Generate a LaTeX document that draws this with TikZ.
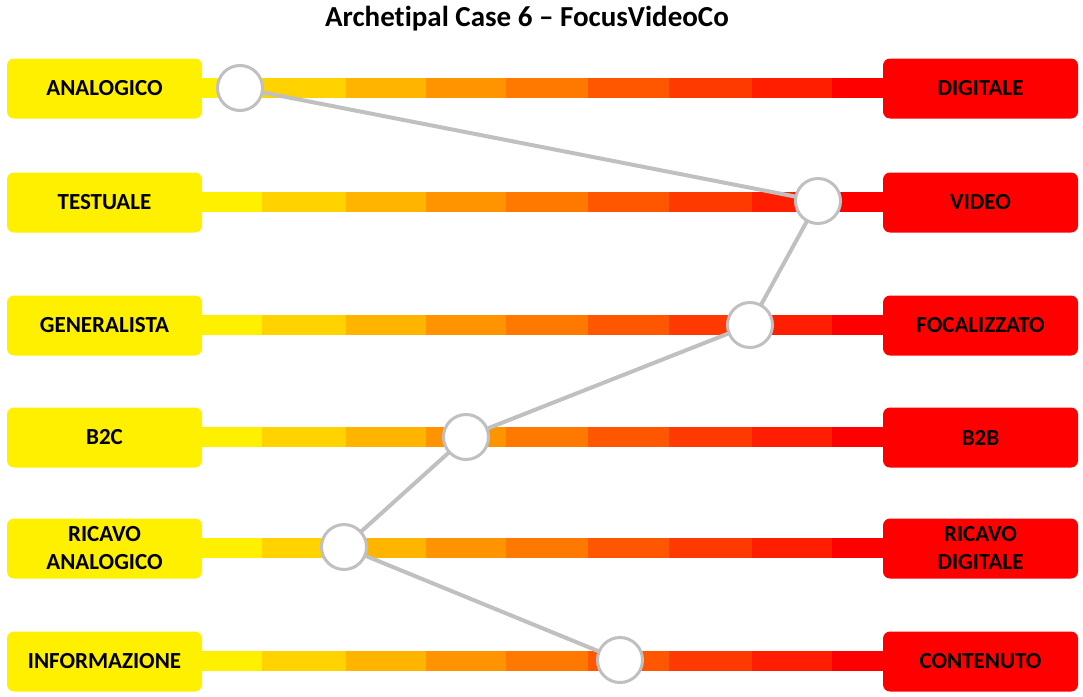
\documentclass[tikz,border=0pt]{standalone}
\usepackage{fontspec}
\setmainfont{Carlito}[Ligatures={NoCommon}]
\definecolor{yel}{HTML}{FFF000}
\definecolor{sa}{HTML}{FFD200}
\definecolor{sb}{HTML}{FFB400}
\definecolor{sc}{HTML}{FF9400}
\definecolor{sd}{HTML}{FF7800}
\definecolor{se}{HTML}{FF5600}
\definecolor{sf}{HTML}{FF3A00}
\definecolor{sg}{HTML}{FF1E00}
\definecolor{rd}{HTML}{FF0000}
\definecolor{knob}{HTML}{C0C0C0}
\begin{document}
\begin{tikzpicture}[x=1pt,y=-1pt,
  pole/.style={minimum width=195pt,minimum height=60pt,rounded corners=7pt,
    font=\fontsize{23}{28}\selectfont\bfseries,align=center,inner sep=0pt},
  leftpole/.style={pole,fill=yel},
  rightpole/.style={pole,fill=rd},
  slider/.style={circle,draw=knob,line width=3pt,fill=white,minimum size=45pt,inner sep=0pt},
  link/.style={draw=knob,line width=4pt}]
\useasboundingbox (0,0) rectangle (1083,696);
\node[font=\fontsize{29}{32}\selectfont\bfseries] (title) at (527,19) {Archetipal Case 6 – FocusVideoCo};
% scale bars, from yellow to red
\foreach \y [count=\i] in {88,202,325,437,548,661}{
  \foreach \a/\b/\c in {202/262/yel,262/346/sa,346/426/sb,426/506/sc,506/588/sd,588/669/se,669/752/sf,752/832/sg,832/884/rd}
    \fill[\c] (\a,\y-10) rectangle (\b,\y+10);
}
% end labels
\foreach \y/\l/\r [count=\i] in {88.5/ANALOGICO/DIGITALE,202.5/TESTUALE/VIDEO,325.5/GENERALISTA/FOCALIZZATO,437.5/B2C/B2B,548.5/{RICAVO\\ANALOGICO}/{RICAVO\\DIGITALE},661.5/INFORMAZIONE/CONTENUTO}{
  \node[leftpole] (L\i) at (104.5,\y) {\l};
  \node[rightpole] (R\i) at (980.5,\y) {\r};
}
% positions on each scale
\coordinate (p1) at (240,88);
\coordinate (p2) at (818,201);
\coordinate (p3) at (750,325);
\coordinate (p4) at (466,437);
\coordinate (p5) at (344,547);
\coordinate (p6) at (620,660);
\draw[link] (p1) -- (p2) -- (p3) -- (p4) -- (p5) -- (p6);
\foreach \i in {1,...,6}
  \node[slider] (c\i) at (p\i) {};
\end{tikzpicture}
\end{document}
